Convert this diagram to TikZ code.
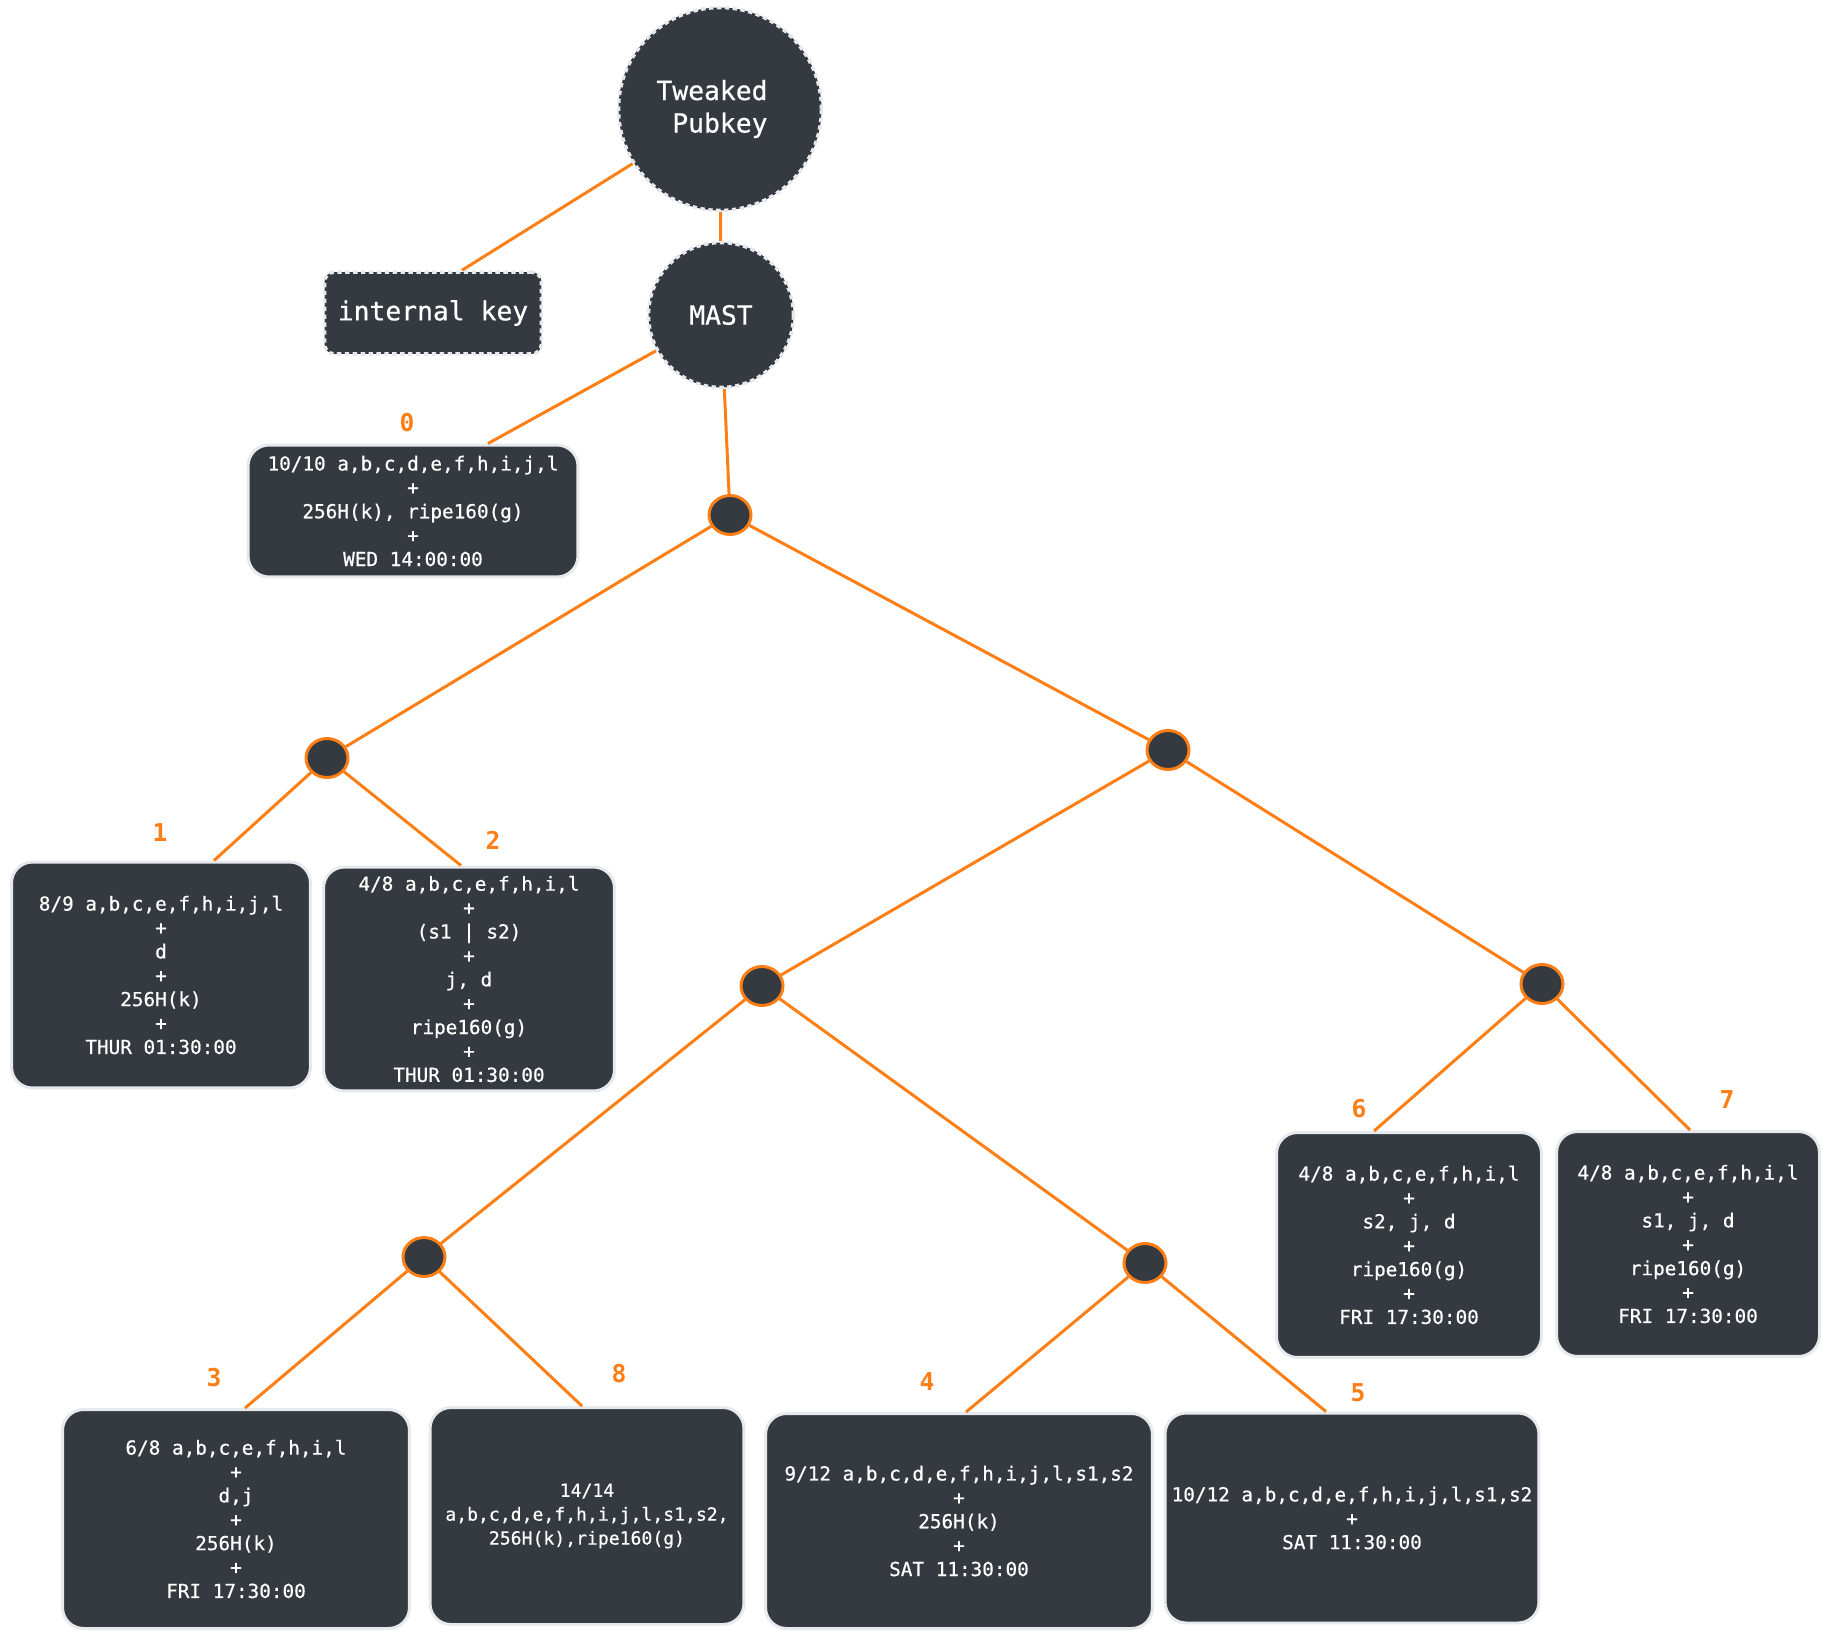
\documentclass[tikz,border=0pt]{standalone}
\usepackage{fontspec}
\setmonofont{DejaVu Sans Mono}
\newfontfamily\boxfont{DejaVu Sans Mono}[FakeBold=0.6]
\usetikzlibrary{shapes.geometric}

\definecolor{slate}{HTML}{343A40}
\definecolor{rim}{HTML}{E6E9EE}
\definecolor{amber}{HTML}{FD7E14}

\begin{document}
\begin{tikzpicture}[x=0.02cm, y=-0.02cm,
        every node/.style={text=white, font=\boxfont},
        top/.style={fill=slate, draw=rim, line width=2pt, dash pattern=on 2.5pt off 2pt, inner sep=0pt, font=\boxfont\fontsize{15}{18.5}\selectfont},
        leaf/.style={rectangle, rounded corners=0.42cm, fill=slate, draw=rim, line width=1.7pt, align=center, inner sep=0pt, font=\boxfont\fontsize{11}{13.6}\selectfont},
        knot/.style={ellipse, fill=slate, draw=amber, line width=1.7pt, minimum width=0.84cm, minimum height=0.78cm, inner sep=0pt},
        num/.style={text=amber, font=\ttfamily\bfseries\fontsize{14}{14}\selectfont},
        link/.style={amber, line width=1.7pt}]
        \useasboundingbox (0, 0) rectangle (1832, 1642);

        \node[top, circle, minimum size=4.06cm] (pubkey) at (720, 109) {};
        \node[font=\boxfont\fontsize{15}{18.5}\selectfont, align=right] (pubtext) at (712, 109) {Tweaked\\Pubkey};
        \node[top, circle, minimum size=2.9cm] (mast) at (721, 315) {MAST};
        \node[top, rectangle, rounded corners=0.2cm, minimum width=4.34cm, minimum height=1.64cm] (ikey) at (433, 313) {internal key};

        \node[knot] (j0) at (730, 515) {};
        \node[knot] (j1) at (327, 758) {};
        \node[knot] (j2) at (1168, 750) {};
        \node[knot] (j3) at (762, 986) {};
        \node[knot] (j4) at (1542, 984) {};
        \node[knot] (j5) at (424, 1257) {};
        \node[knot] (j6) at (1145, 1263) {};

        \node[leaf, minimum width=6.6cm, minimum height=2.64cm] (s0) at (413, 511) {10/10 a,b,c,d,e,f,h,i,j,l\\+\\256H(k), ripe160(g)\\+\\WED 14:00:00};
        \node[leaf, minimum width=5.98cm, minimum height=4.52cm] (s1) at (161, 975) {8/9 a,b,c,e,f,h,i,j,l\\+\\d\\+\\256H(k)\\+\\THUR 01:30:00};
        \node[leaf, minimum width=5.82cm, minimum height=4.48cm] (s2) at (469, 979) {4/8 a,b,c,e,f,h,i,l\\+\\(s1 | s2)\\+\\j, d\\+\\ripe160(g)\\+\\THUR 01:30:00};
        \node[leaf, minimum width=6.94cm, minimum height=4.38cm] (s3) at (236, 1519) {6/8 a,b,c,e,f,h,i,l\\+\\d,j\\+\\256H(k)\\+\\FRI 17:30:00};
        \node[leaf, minimum width=7.74cm, minimum height=4.3cm] (s4) at (959, 1521) {9/12 a,b,c,d,e,f,h,i,j,l,s1,s2\\+\\256H(k)\\+\\SAT 11:30:00};
        \node[leaf, minimum width=7.48cm, minimum height=4.2cm] (s5) at (1352, 1518) {10/12 a,b,c,d,e,f,h,i,j,l,s1,s2\\+\\SAT 11:30:00};
        \node[leaf, minimum width=5.3cm, minimum height=4.5cm] (s6) at (1409, 1245) {4/8 a,b,c,e,f,h,i,l\\+\\s2, j, d\\+\\ripe160(g)\\+\\FRI 17:30:00};
        \node[leaf, minimum width=5.26cm, minimum height=4.5cm] (s7) at (1688, 1244) {4/8 a,b,c,e,f,h,i,l\\+\\s1, j, d\\+\\ripe160(g)\\+\\FRI 17:30:00};
        \node[leaf, minimum width=6.28cm, minimum height=4.34cm, font=\boxfont\fontsize{10.3}{13.6}\selectfont] (s8) at (587, 1516) {14/14\\a,b,c,d,e,f,h,i,j,l,s1,s2,\\256H(k),ripe160(g)};

        \node[num] (l0) at (407, 423) {0};
        \node[num] (l1) at (160, 833) {1};
        \node[num] (l2) at (493, 840) {2};
        \node[num] (l3) at (214, 1378) {3};
        \node[num] (l4) at (927, 1382) {4};
        \node[num] (l5) at (1358, 1393) {5};
        \node[num] (l6) at (1359, 1109) {6};
        \node[num] (l7) at (1727, 1100) {7};
        \node[num] (l8) at (619, 1374) {8};

        \draw[link] (pubkey) -- ([xshift=0.58cm]ikey.north);
        \draw[link] (pubkey) -- (mast);
        \draw[link] (mast) -- ([xshift=1.5cm]s0.north);
        \draw[link] (mast) -- (j0);
        \draw[link] (j0) -- (j1);
        \draw[link] (j0) -- (j2);
        \draw[link] (j1) -- ([xshift=1.06cm]s1.north);
        \draw[link] (j1) -- ([xshift=-0.16cm]s2.north);
        \draw[link] (j2) -- (j3);
        \draw[link] (j2) -- (j4);
        \draw[link] (j3) -- (j5);
        \draw[link] (j3) -- (j6);
        \draw[link] (j5) -- ([xshift=0.18cm]s3.north);
        \draw[link] (j5) -- ([xshift=-0.1cm]s8.north);
        \draw[link] (j6) -- ([xshift=0.14cm]s4.north);
        \draw[link] (j6) -- ([xshift=-0.52cm]s5.north);
        \draw[link] (j4) -- ([xshift=-0.7cm]s6.north);
        \draw[link] (j4) -- ([xshift=0.04cm]s7.north);
    \end{tikzpicture}
\end{document}
